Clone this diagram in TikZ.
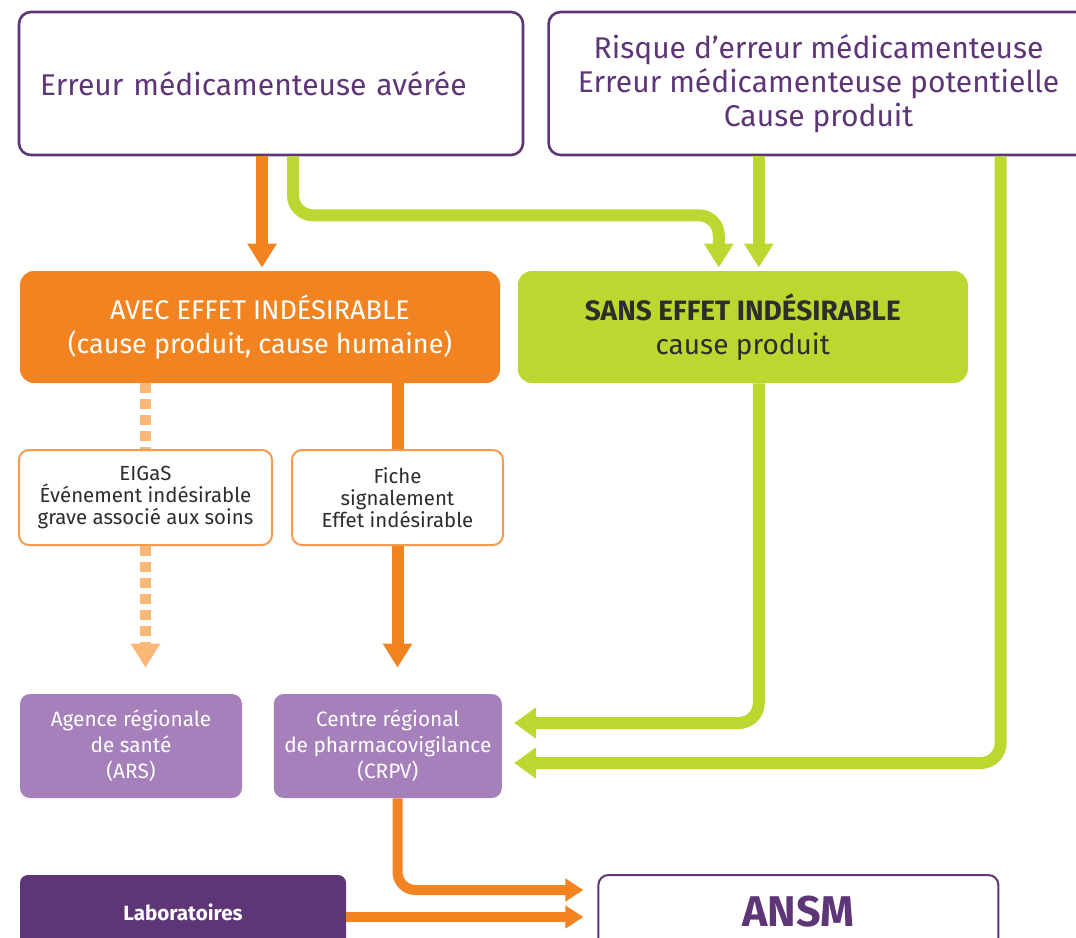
\documentclass[tikz,border=0pt]{standalone}
\usepackage{fontspec}
\setmainfont{Fira Sans}
\usetikzlibrary{arrows.meta,positioning,calc}

\definecolor{ansmviolet}{RGB}{94,53,119}
\definecolor{violetclair}{RGB}{166,128,186}
\definecolor{ansmorange}{RGB}{241,131,33}
\definecolor{orangeclair}{RGB}{251,183,117}
\definecolor{orangebord}{RGB}{245,155,80}
\definecolor{ansmvert}{RGB}{190,214,48}
\definecolor{grisfonce}{RGB}{45,45,45}

\begin{document}
\begin{tikzpicture}[
  x=0.5pt, y=-0.5pt,
  topbox/.style={draw=ansmviolet, line width=1.3pt, rounded corners=6pt, fill=white, text=ansmviolet, minimum height=71.5pt, inner sep=0pt, font=\fontsize{15}{17}\selectfont},
  effetbox/.style={rounded corners=7pt, minimum height=56pt, inner sep=0pt, align=center, font=\fontsize{13.5}{17}\selectfont},
  fichebox/.style={draw=orangebord, line width=1pt, rounded corners=5pt, fill=white, text=grisfonce, minimum height=47.5pt, inner sep=0pt, align=center, font=\fontsize{10.2}{11}\selectfont},
  centrebox/.style={fill=violetclair, text=white, rounded corners=5pt, minimum height=52pt, inner sep=0pt, align=center, font=\fontsize{10.4}{13}\selectfont},
  labobox/.style={fill=ansmviolet, text=white, rounded corners=4pt, minimum width=163pt, minimum height=37pt, inner sep=0pt, font=\fontsize{10.3}{11}\bfseries},
  ansmbox/.style={draw=ansmviolet, line width=1pt, fill=white, text=ansmviolet, rounded corners=5pt, minimum width=200pt, minimum height=37pt, inner sep=0pt, font=\fontsize{21.5}{23}\bfseries},
  oflux/.style={draw=ansmorange, line width=6pt, rounded corners=9pt, -{Triangle[width=14pt,length=12pt]}},
  bflux/.style={draw=ansmorange, line width=5pt, rounded corners=9pt, -{Triangle[width=11pt,length=9pt]}},
  dflux/.style={draw=orangeclair, line width=5.5pt, dash pattern=on 5pt off 3pt, -{Triangle[width=14pt,length=12pt]}},
  gflux/.style={draw=ansmvert, line width=6pt, rounded corners=10pt, -{Triangle[width=14pt,length=12pt]}},
  cflux/.style={draw=ansmvert, line width=6pt, rounded corners=10pt, -{Triangle[width=15pt,length=11pt]}}
]
\useasboundingbox (0,0) rectangle (1076,937);
\node[topbox, align=left, text width=231pt, inner xsep=10.5pt] (err) at (271,83.5) {Erreur médicamenteuse avérée};
\node[topbox, right=11.5pt of err, minimum width=270pt, align=center] (risk) {Risque d’erreur médicamenteuse\\Erreur médicamenteuse potentielle\\Cause produit};
\node[effetbox, fill=ansmorange, text=white, minimum width=240pt] (avec) at (260,327) {AVEC EFFET INDÉSIRABLE\\(cause produit, cause humaine)};
\node[effetbox, fill=ansmvert, text=grisfonce, minimum width=225pt, right=8.5pt of avec, font=\fontsize{14}{17}\selectfont] (sans) {\textbf{SANS EFFET INDÉSIRABLE}\\cause produit};
\node[fichebox, minimum width=126.5pt] (eigas) at (145.5,497.5) {EIGaS\\Événement indésirable\\grave associé aux soins};
\node[fichebox, minimum width=105.5pt, right=9pt of eigas] (fiche) {Fiche\\signalement\\Effet indésirable};
\node[centrebox, minimum width=111pt] (ars) at (131,746) {Agence régionale\\de santé\\(ARS)};
\node[centrebox, minimum width=114pt, right=15.5pt of ars] (crpv) {Centre régional\\de pharmacovigilance\\(CRPV)};
\node[labobox] (labo) at (183,912) {Laboratoires};
\node[ansmbox, right=125.5pt of labo] (ansm) {ANSM};
\coordinate (sx) at ($(sans.north)+(16,0)$);
\coordinate (rx) at ($(risk.south)+(182,0)$);
\draw[oflux, shorten >=1.5pt] ($(avec.north |- err.south)+(2,0)$) -- ($(avec.north)+(2,0)$);
\draw[oflux, -] (avec.south -| fiche.north) -- (fiche.north);
\draw[oflux, shorten >=13pt] (fiche.south) -- (fiche.south |- crpv.north);
\draw[dflux, -] (avec.south -| eigas.north) -- (eigas.north);
\draw[dflux, shorten >=13pt] (eigas.south) -- (eigas.south |- ars.north);
\draw[bflux] (fiche.south |- crpv.south) |- ($(ansm.west)+(-14,-22)$);
\draw[bflux] ($(labo.east)+(0,5)$) -- ($(ansm.west)+(-14,5)$);
\draw[gflux, shorten >=1.5pt] ($(err.south)+(22,0)$) -- ++(0,59) -| ($(sans.north)+(-24,0)$);
\draw[gflux, shorten >=1.5pt] (sx |- risk.south) -- (sx);
\draw[cflux] ($(sans.south)+(16,0)$) |- ($(crpv.east)+(12,-23)$);
\draw[cflux] (rx) |- ($(crpv.east)+(12,17)$);
\end{tikzpicture}
\end{document}
